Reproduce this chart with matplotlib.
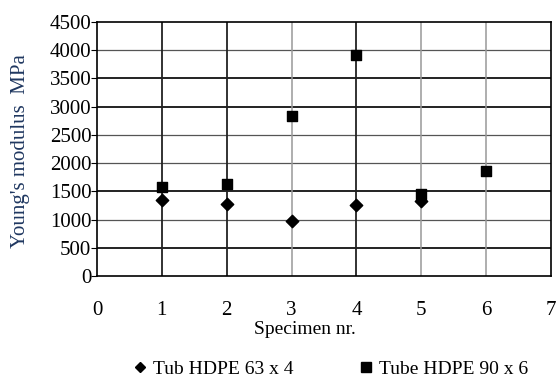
import matplotlib.pyplot as plt
from matplotlib.lines import Line2D

specimen_63 = [1, 2, 3, 4, 5]
modulus_63 = [1350, 1270, 970, 1265, 1320]

specimen_90 = [1, 2, 3, 4, 5, 6]
modulus_90 = [1575, 1635, 2830, 3915, 1450, 1855]

label_63 = "Tub HDPE 63 x 4"
label_90 = "Tube HDPE 90 x 6"

plt.rcParams['font.family'] = ['Liberation Serif', 'DejaVu Serif']

fig = plt.figure(figsize=(5.58, 3.77), dpi=100)
ax = fig.add_axes([0.1738, 0.268, 0.8136, 0.6737])

ax.set_xlim(0, 7)
ax.set_ylim(0, 4500)

# grid lines, some darker than others like the original
for y in range(500, 4500, 500):
    dark = y in (500, 1500, 3000, 3500)
    ax.axhline(y, color='#111111' if dark else '#555555', lw=1.3 if dark else 0.9, zorder=1)
for x in range(1, 7):
    dark = x in (1, 2, 4)
    ax.axvline(x, color='#222222' if dark else '#999999', lw=1.3 if dark else 1.1, zorder=1)

ax.scatter(specimen_63, modulus_63, marker='D', s=40, color='black', zorder=3)
ax.scatter(specimen_90, modulus_90, marker='s', s=55, color='black', zorder=3)

ax.set_xticks(range(0, 8))
ax.set_yticks(range(0, 4501, 500))
ax.tick_params(axis='x', length=0, pad=18, labelsize=15)
ax.tick_params(axis='y', length=4, width=0.8, direction='out', pad=0, labelsize=15)
for s in ax.spines.values():
    s.set_linewidth(1.2)

ax.set_xlabel("Specimen nr.", fontsize=14)
ax.xaxis.set_label_coords((305 - 97) / 454, -0.178)
ax.set_ylabel("Young's modulus  MPa", fontsize=15, color='#1f3760')
ax.yaxis.set_label_coords(-0.148, 0.49)

handles = [
    Line2D([], [], marker='D', color='black', ls='', markersize=5),
    Line2D([], [], marker='s', color='black', ls='', markersize=6.5),
]
fig.legend(handles, [label_63, label_90], loc='center', ncol=2,
           bbox_to_anchor=(0.592, 0.022), frameon=False, fontsize=14,
           handletextpad=0.3, columnspacing=3.3, handlelength=0.8,
           borderpad=0, borderaxespad=0)

fig.savefig('out.png', dpi=100)
